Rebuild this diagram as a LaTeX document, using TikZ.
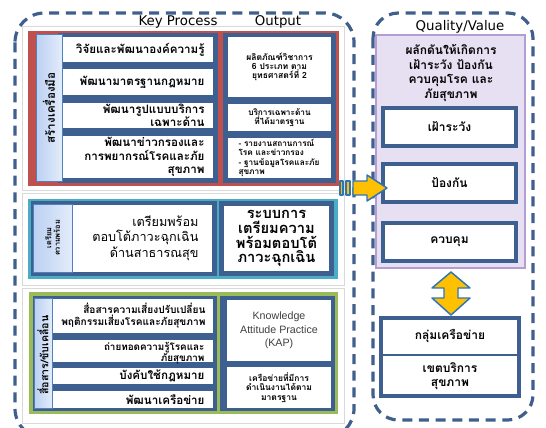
\documentclass[tikz,border=0pt]{standalone}
\usepackage{fontspec}
\setmainfont{DejaVu Sans}
\newfontfamily\thai[Script=Thai]{Loma}
\newfontfamily\latn{Liberation Sans}

\definecolor{dashblue}{HTML}{3F5F8C}
\definecolor{frameblue}{HTML}{3D6090}
\definecolor{secred}{HTML}{C0504D}
\definecolor{secteal}{HTML}{4BACC6}
\definecolor{secgreen}{HTML}{9BBB59}
\definecolor{lblA}{HTML}{BBD0F2}
\definecolor{lblB}{HTML}{E3ECFA}
\definecolor{lblborder}{HTML}{4F81BD}
\definecolor{purplefill}{HTML}{E7DFF2}
\definecolor{purpleborder}{HTML}{B39DD3}
\definecolor{arrowfill}{HTML}{FFC000}
\definecolor{arrowline}{HTML}{2E75B6}

\newcommand{\kpfont}{\thai\bfseries\fontsize{8.7}{10}\selectfont}
\newcommand{\kpsmall}{\thai\bfseries\fontsize{7.6}{9}\selectfont}
\newcommand{\outfont}{\thai\bfseries\fontsize{6.4}{7}\selectfont}
\newcommand{\outtiny}{\thai\bfseries\fontsize{6.2}{7.2}\selectfont}
\newcommand{\bigfont}{\thai\bfseries\fontsize{11}{11}\selectfont}
\newcommand{\qfont}{\thai\bfseries\fontsize{9}{11}\selectfont}

\tikzset{every picture/.style={line width=0.75pt}}
\tikzset{
  dashedframe/.style={draw=dashblue, line width=2.4pt, dash pattern=on 7.5pt off 5pt, rounded corners=22pt},
  panel/.style={draw=black!15, fill=white},
  band/.style={fill=frameblue},
  wbox/.style={fill=white},
  lblbox/.style={draw=lblborder, left color=lblA, right color=lblB},
  qbox/.style={draw=frameblue, line width=3pt, fill=white},
  blockarrow/.style={draw=arrowline, fill=arrowfill, line width=1.1pt, line join=round},
}

\begin{document}
\begin{tikzpicture}[x=0.75pt,y=0.75pt,yscale=-1,xscale=1]
\useasboundingbox (0,0) rectangle (546,428);
\clip (0,0) rectangle (546,428);

%Shape: Rounded Rect [id:frameL] 
\draw [dashedframe]  (15,13) rectangle (354,438) ;
%Shape: Rounded Rect [id:frameR] 
\draw [dashedframe, rounded corners=19pt]  (373,13) rectangle (533,420) ;

%Shape: Rectangle [id:pan1] 
\draw [panel]  (22,27) rectangle (344,190) ;
%Shape: Rectangle [id:pan2] 
\draw [panel]  (22,193) rectangle (344,285) ;
%Shape: Rectangle [id:pan3] 
\draw [panel]  (22,288) rectangle (344,423) ;

%Shape: Rectangle [id:sec1] 
\fill [secred]  (28,31) rectangle (339,186) ;
\fill [band]  (58,33) rectangle (218,183) ;
\fill [band]  (223,33) rectangle (336,183) ;
\draw [lblbox]  (36,35) rectangle (62,181) ;
\fill [wbox]  (63,37) rectangle (213,62) ;
\fill [wbox]  (63,69) rectangle (213,95) ;
\fill [wbox]  (63,103) rectangle (213,128) ;
\fill [wbox]  (63,136) rectangle (213,178) ;
\fill [wbox]  (228,37) rectangle (331,97) ;
\fill [wbox]  (228,104) rectangle (331,131) ;
\fill [wbox]  (228,138) rectangle (331,178) ;

%Shape: Rectangle [id:sec2] 
\fill [secteal]  (28,199) rectangle (338,279) ;
\fill [band]  (31,201) rectangle (217,276) ;
\fill [band]  (219,201) rectangle (334,276) ;
\draw [lblbox]  (33,204) rectangle (72,272) ;
\fill [wbox]  (73,205) rectangle (212,272) ;
\fill [wbox]  (224,206) rectangle (329,271) ;

%Shape: Rectangle [id:sec3] 
\fill [secgreen]  (29,292) rectangle (338,414) ;
\fill [band]  (33,296) rectangle (217,411) ;
\fill [band]  (220,296) rectangle (335,411) ;
\draw [lblbox]  (34,298) rectangle (52,408) ;
\fill [wbox]  (53,299) rectangle (213,333) ;
\fill [wbox]  (53,340) rectangle (213,362) ;
\fill [wbox]  (53,368) rectangle (213,384) ;
\fill [wbox]  (53,391) rectangle (213,408) ;
\fill [wbox]  (227,300) rectangle (331,361) ;
\fill [wbox]  (227,367) rectangle (331,408) ;

%Shape: Rectangle [id:qual] 
\draw [draw=purpleborder, fill=purplefill, line width=1.5pt]  (376,35) rectangle (525,268) ;
\draw [qbox]  (383,108) rectangle (516,146) ;
\draw [qbox]  (383,164) rectangle (516,202) ;
\draw [qbox]  (383,223) rectangle (516,261) ;
%Shape: Rectangle [id:net] 
\draw [qbox]  (381,318) rectangle (519,396) ;
%Straight Lines [id:netdiv] 
\draw [draw=frameblue, line width=2pt]  (381,355) -- (519,355) ;

%Shape: Right Arrow [id:arrR] 
\draw [blockarrow]  (340,181) rectangle (343,195) ;
\draw [blockarrow]  (346,181) rectangle (350,195) ;
\draw [blockarrow]  (353,181) -- (367,181) -- (367,175) -- (387,188) -- (367,201) -- (367,195) -- (353,195) -- cycle ;
%Shape: Up Down Arrow [id:arrUD] 
\draw [blockarrow]  (451,272) -- (470,288) -- (458,288) -- (458,298) -- (470,298) -- (451,315) -- (432,298) -- (444,298) -- (444,288) -- (432,288) -- cycle ;

% Text Node
\draw (178,22) node [inner sep=0.75pt] [font=\fontsize{10}{12}\selectfont] (tkp) {Key Process};
% Text Node
\draw (278,22) node [inner sep=0.75pt] [font=\fontsize{10}{12}\selectfont] (tout) {Output};
% Text Node
\draw (460,27) node [inner sep=0.75pt] [font=\fontsize{10}{12}\selectfont] (tqual) {Quality/Value};

% Text Node
\draw (49,108) node [inner sep=0.75pt] [rotate=90, font=\kpfont] (lab1) {สร้างเครื่องมือ};
% Text Node
\draw (52.5,238) node [inner sep=0.75pt] [rotate=90, align=center, font=\thai\bfseries\fontsize{5.5}{6.5}\selectfont] (lab2) {เตรียม\\ความพร้อม};
% Text Node
\draw (43,355) node [inner sep=0.75pt] [rotate=90, font=\thai\bfseries\fontsize{8}{9}\selectfont] (lab3) {สื่อสาร/ขับเคลื่อน};

% Text Node
\draw (206,49.5) node [anchor=east] [inner sep=0.75pt] [font=\kpfont] (kp1) {วิจัยและพัฒนาองค์ความรู้};
% Text Node
\draw (206,82) node [anchor=east] [inner sep=0.75pt] [font=\kpfont] (kp2) {พัฒนามาตรฐานกฎหมาย};
% Text Node
\draw (206,115.5) node [anchor=east] [inner sep=0.75pt] [align=right, font=\kpfont] (kp3) {พัฒนารูปแบบบริการ\\เฉพาะด้าน};
% Text Node
\draw (206,157) node [anchor=east] [inner sep=0.75pt] [align=right, font=\kpfont] (kp4) {พัฒนาข่าวกรองและ\\การพยากรณ์โรคและภัย\\สุขภาพ};

% Text Node
\draw (279.5,67) node [inner sep=0.75pt] [align=center, font=\outfont] (out1) {ผลิตภัณฑ์วิชาการ\\6 ประเภท ตาม\\ยุทธศาสตร์ที่ 2};
% Text Node
\draw (279.5,117.5) node [inner sep=0.75pt] [align=center, font=\outtiny] (out2) {บริการเฉพาะด้าน\\ที่ได้มาตรฐาน};
% Text Node
\draw (237,158) node [anchor=west] [inner sep=0.75pt] [align=left, font=\outtiny] (out3) {- รายงานสถานการณ์\\โรค และข่าวกรอง\\- ฐานข้อมูลโรคและภัย\\สุขภาพ};

% Text Node
\draw (200,238) node [anchor=east] [inner sep=0.75pt] [align=right, font=\thai\fontsize{9.5}{11.5}\selectfont] (kp5) {เตรียมพร้อม\\ตอบโต้ภาวะฉุกเฉิน\\ด้านสาธารณสุข};
% Text Node
\draw (276.5,238.5) node [inner sep=0.75pt] [align=center, font=\bigfont] (out4) {ระบบการ\\เตรียมความ\\พร้อมตอบโต้\\ภาวะฉุกเฉิน};

% Text Node
\draw (207,316) node [anchor=east] [inner sep=0.75pt] [align=right, font=\kpsmall] (kp6) {สื่อสารความเสี่ยงปรับเปลี่ยน\\พฤติกรรมเสี่ยงโรคและภัยสุขภาพ};
% Text Node
\draw (206,353) node [anchor=east] [inner sep=0.75pt] [align=right, font=\thai\bfseries\fontsize{7.4}{8.2}\selectfont] (kp7) {ถ่ายทอดความรู้โรคและ\\ภัยสุขภาพ};
% Text Node
\draw (206,376) node [anchor=east] [inner sep=0.75pt] [font=\kpfont] (kp8) {บังคับใช้กฎหมาย};
% Text Node
\draw (206,399.5) node [anchor=east] [inner sep=0.75pt] [font=\kpfont] (kp9) {พัฒนาเครือข่าย};
% Text Node
\draw (279,330.5) node [inner sep=0.75pt] [align=center, text=black!75, font=\latn\fontsize{8}{10}\selectfont] (out5) {Knowledge\\Attitude Practice\\(KAP)};
% Text Node
\draw (279,387.5) node [inner sep=0.75pt] [align=center, font=\outfont] (out6) {เครือข่ายที่มีการ\\ดำเนินงานได้ตาม\\มาตรฐาน};

% Text Node
\draw (451,73) node [inner sep=0.75pt] [align=center, font=\qfont] (qtxt) {ผลักดันให้เกิดการ\\เฝ้าระวัง ป้องกัน\\ควบคุมโรค และ\\ภัยสุขภาพ};
% Text Node
\draw (449.5,127) node [inner sep=0.75pt] [font=\qfont] (q1) {เฝ้าระวัง};
% Text Node
\draw (449.5,183) node [inner sep=0.75pt] [font=\qfont] (q2) {ป้องกัน};
% Text Node
\draw (449.5,242) node [inner sep=0.75pt] [font=\qfont] (q3) {ควบคุม};
% Text Node
\draw (450,336.5) node [inner sep=0.75pt] [font=\qfont] (n1) {กลุ่มเครือข่าย};
% Text Node
\draw (450,376) node [inner sep=0.75pt] [align=center, font=\qfont] (n2) {เขตบริการ\\สุขภาพ};

\end{tikzpicture}
\end{document}
